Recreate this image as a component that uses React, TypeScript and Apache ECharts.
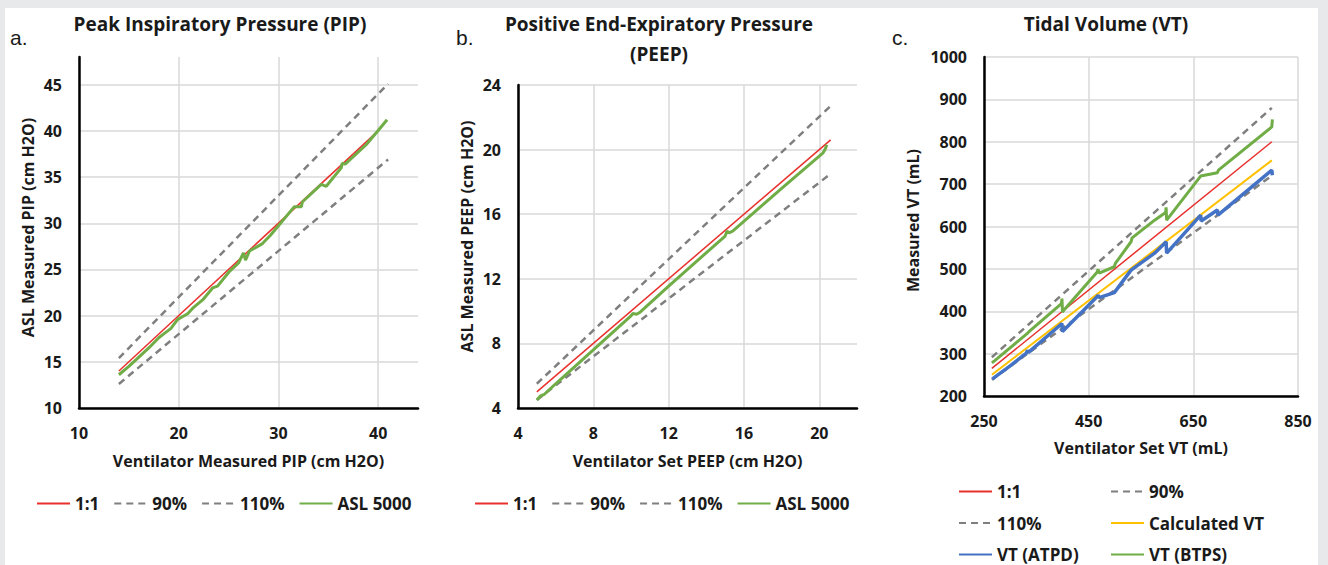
import React, { useEffect, useRef } from "react";
import * as echarts from "echarts";

// ---------- Data ----------
// Panel a: PIP
const pipIdentity = [[14, 14], [40, 40]];
const pip90 = [[14, 12.6], [41, 36.9]];
const pip110 = [[14, 15.4], [41, 45.1]];
const pipAsl = [
  [14, 13.6], [15, 14.5], [16, 15.5], [17, 16.5], [18, 17.6], [18.6, 18.1], [19.2, 18.6],
  [19.9, 19.6], [20.9, 20.2], [21.5, 20.9], [22.4, 21.7], [23.4, 23.0], [23.9, 23.2],
  [25.1, 24.8], [26.0, 25.7], [26.5, 26.8], [26.7, 26.0], [27.1, 27.0], [28.4, 27.8],
  [29.2, 28.7], [29.9, 29.6], [31.6, 31.8], [32.3, 31.8], [32.4, 32.3], [34.3, 34.2],
  [34.8, 34.0], [36.3, 36.0], [36.4, 36.5], [36.7, 36.4], [38.8, 38.5], [39.9, 39.9],
  [40.9, 41.2],
];
const pipXTicks = { min: 10, max: 44, interval: 10 };
const pipYTicks = { min: 10, max: 48, interval: 5 };

// Panel b: PEEP
const peepIdentity = [[5, 5], [20.6, 20.6]];
const peep90 = [[5, 4.5], [20.6, 18.5]];
const peep110 = [[5, 5.5], [20.6, 22.7]];
const peepAsl = [
  [5, 4.5], [5.2, 4.75], [5.4, 4.85], [6, 5.5], [8, 7.6], [10, 9.7], [10.1, 9.85],
  [10.3, 9.8], [10.5, 9.95], [12, 11.55], [15, 14.65], [15.1, 14.95], [15.2, 14.85],
  [15.4, 14.95], [18, 17.6], [20.2, 19.8], [20.3, 20.0], [20.4, 20.3],
];
const peepXTicks = { min: 4, max: 22, interval: 4 };
const peepYTicks = { min: 4, max: 24, interval: 4 };

// Panel c: VT
const vtIdentity = [[265, 265], [800, 800]];
const vt90 = [[265, 238.5], [800, 720]];
const vt110 = [[265, 291.5], [800, 880]];
const vtCalc = [[265, 250], [800, 756]];
const vtAtpd = [
  [266, 240], [270, 244], [300, 271], [331, 301], [333, 308], [335, 303], [399, 371],
  [400, 352], [466, 434], [468, 438], [470, 432], [499, 444], [531, 497], [576, 537],
  [598, 564], [599, 537], [664, 627], [665, 613], [696, 639], [697, 627], [800, 733],
  [801, 721],
];
const vtBtps = [
  [265, 278], [270, 283], [334, 349], [336, 352], [398, 418], [399, 430], [400, 398],
  [402, 402], [466, 492], [468, 499], [470, 490], [499, 505], [501, 513], [531, 564],
  [533, 573], [576, 615], [597, 633], [598, 645], [599, 615], [664, 719], [696, 727],
  [698, 733], [800, 835], [801, 853],
];
const vtXTicks = { min: 250, max: 850, interval: 200 };
const vtYTicks = { min: 200, max: 1000, interval: 100 };

const legendAB = ["1:1", "90%", "110%", "ASL 5000"];
const legendC1 = ["1:1", "110%", "VT (ATPD)"];
const legendC2 = ["90%", "Calculated VT", "VT (BTPS)"];

// ---------- Styles ----------
const FONT = "'Open Sans', sans-serif";
const TXT = "#1a1a1a";
const RED = "#e8302c";
const GRAY = "#7f7f7f";
const GREEN = "#70ad47";
const BLUE = "#4472c4";
const YELLOW = "#ffc000";

const axisCommon = (showMaxLine: boolean, showMaxLabel: boolean, margin: number) => ({
  type: "value" as const,
  axisLine: { show: true, onZero: false, lineStyle: { color: "#000", width: 2.5 } },
  axisTick: { show: false },
  axisLabel: {
    color: TXT,
    fontFamily: FONT,
    fontWeight: "bold",
    fontSize: 16,
    margin,
    showMaxLabel,
    formatter: (v: number) => String(v),
  },
  splitLine: { show: true, showMaxLine, lineStyle: { color: "#d9d9d9", width: 1.5 } },
  nameTextStyle: { color: TXT, fontFamily: FONT, fontWeight: "bold", fontSize: 16 },
  nameLocation: "middle" as const,
});

const yName = (shift: number) => ({
  color: TXT,
  fontFamily: FONT,
  fontWeight: "bold",
  fontSize: 16,
  padding: [0, 0, 0, shift],
});

const lineSeries = (
  name: string,
  data: number[][],
  idx: number,
  color: string,
  width: number,
  dashed: boolean,
  z: number
) => ({
  type: "line" as const,
  name,
  data,
  xAxisIndex: idx,
  yAxisIndex: idx,
  symbol: "none",
  showSymbol: false,
  color,
  z,
  lineStyle: { color, width, type: dashed ? [7, 5] : "solid" },
});

export default function App() {
  const ref = useRef<HTMLDivElement>(null);

  useEffect(() => {
    if (!ref.current) return;
    const chart = echarts.init(ref.current, undefined, { renderer: "svg" });

    const legendText = { color: TXT, fontFamily: FONT, fontWeight: "bold", fontSize: 17 };
    const legendBase = {
      padding: 0,
      itemWidth: 33,
      itemHeight: 14,
      itemStyle: { opacity: 0 },
      textStyle: legendText,
    };

    const title = (text: string, x: number, y: number) => ({
      type: "text",
      x,
      y,
      style: {
        text,
        fill: TXT,
        font: `bold 19px ${FONT}`,
        textAlign: "center",
        textVerticalAlign: "middle",
      },
    });
    const panelLetter = (text: string, x: number) => ({
      type: "text",
      x,
      y: 37,
      style: {
        text,
        fill: TXT,
        font: "21px 'Liberation Sans', sans-serif",
        textVerticalAlign: "middle",
      },
    });

    const option: any = {
      animation: false,
      backgroundColor: "#e8e9eb",
      grid: [
        { left: 79, top: 57, width: 339, height: 351 },
        { left: 518, top: 85, width: 339, height: 323 },
        { left: 984, top: 57, width: 314, height: 339 },
      ],
      xAxis: [
        {
          ...axisCommon(false, false, 17),
          gridIndex: 0,
          ...pipXTicks,
          name: "Ventilator Measured PIP (cm H2O)",
          nameGap: 45,
        },
        {
          ...axisCommon(false, false, 17),
          gridIndex: 1,
          ...peepXTicks,
          name: "Ventilator Set PEEP (cm H2O)",
          nameGap: 45,
        },
        {
          ...axisCommon(true, true, 17),
          gridIndex: 2,
          ...vtXTicks,
          name: "Ventilator Set VT (mL)",
          nameGap: 44,
        },
      ],
      yAxis: [
        {
          ...axisCommon(false, false, 17),
          gridIndex: 0,
          ...pipYTicks,
          name: "ASL Measured PIP (cm H2O)",
          nameGap: 43,
          nameTextStyle: yName(10),
        },
        {
          ...axisCommon(true, true, 17),
          gridIndex: 1,
          ...peepYTicks,
          name: "ASL Measured PEEP (cm H2O)",
          nameGap: 43,
          nameTextStyle: yName(20),
        },
        {
          ...axisCommon(true, true, 17),
          gridIndex: 2,
          ...vtYTicks,
          name: "Measured VT (mL)",
          nameGap: 63,
          nameTextStyle: yName(12),
        },
      ],
      legend: [
        { ...legendBase, data: legendAB, left: 36, top: 495, itemGap: 14 },
        { ...legendBase, data: legendAB, left: 474, top: 495, itemGap: 14 },
        { ...legendBase, data: legendC1, orient: "vertical", left: 958, top: 483, itemGap: 14.5 },
        { ...legendBase, data: legendC2, orient: "vertical", left: 1110, top: 483, itemGap: 14.5 },
      ],
      series: [
        lineSeries("1:1", pipIdentity, 0, RED, 1.5, false, 3),
        lineSeries("90%", pip90, 0, GRAY, 2.5, true, 2),
        lineSeries("110%", pip110, 0, GRAY, 2.5, true, 2),
        lineSeries("ASL 5000", pipAsl, 0, GREEN, 3, false, 4),

        lineSeries("1:1", peepIdentity, 1, RED, 1.5, false, 3),
        lineSeries("90%", peep90, 1, GRAY, 2.5, true, 2),
        lineSeries("110%", peep110, 1, GRAY, 2.5, true, 2),
        lineSeries("ASL 5000", peepAsl, 1, GREEN, 3, false, 4),

        lineSeries("1:1", vtIdentity, 2, RED, 1.5, false, 3),
        lineSeries("90%", vt90, 2, GRAY, 2.5, true, 2),
        lineSeries("110%", vt110, 2, GRAY, 2.5, true, 2),
        lineSeries("Calculated VT", vtCalc, 2, YELLOW, 2, false, 3),
        lineSeries("VT (ATPD)", vtAtpd, 2, BLUE, 3.5, false, 4),
        lineSeries("VT (BTPS)", vtBtps, 2, GREEN, 3, false, 4),
      ],
      graphic: [
        {
          type: "rect",
          z: -10,
          silent: true,
          shape: { x: 5, y: 8, width: 1313, height: 557 },
          style: { fill: "#ffffff" },
        },
        panelLetter("a.", 10),
        panelLetter("b.", 456),
        panelLetter("c.", 892),
        title("Peak Inspiratory Pressure (PIP)", 220, 24),
        title("Positive End-Expiratory Pressure", 659, 24),
        title("(PEEP)", 659, 54),
        title("Tidal Volume (VT)", 1106, 24),
      ],
    };

    chart.setOption(option);
    return () => chart.dispose();
  }, []);

  return (
    <div
      ref={ref}
      style={{ position: "fixed", left: 0, top: 0, width: 1328, height: 565 }}
    />
  );
}
